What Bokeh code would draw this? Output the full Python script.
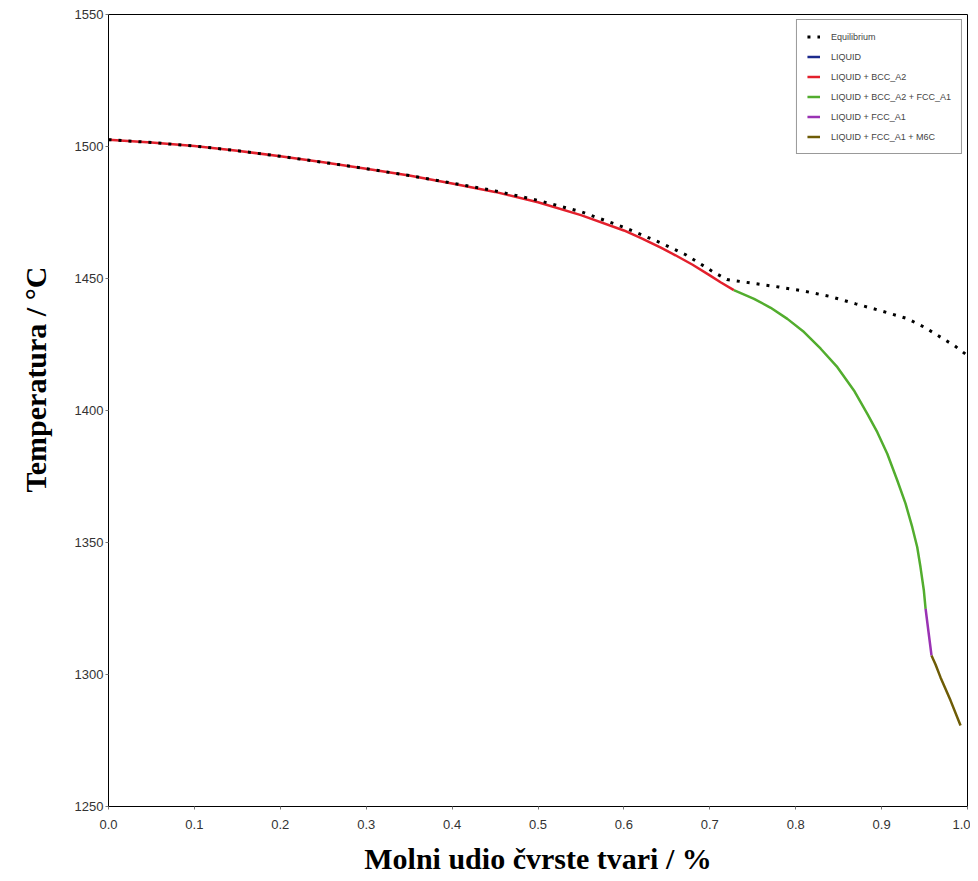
from bokeh.plotting import figure
from bokeh.models import Legend, LegendItem, FixedTicker, Title
from bokeh.embed import file_html
from bokeh.resources import INLINE

# ---- ticks ----
x_ticks = [0.0, 0.1, 0.2, 0.3, 0.4, 0.5, 0.6, 0.7, 0.8, 0.9, 1.0]
x_tick_labels = ["0.0", "0.1", "0.2", "0.3", "0.4", "0.5", "0.6", "0.7", "0.8", "0.9", "1.0"]
y_ticks = [1250, 1300, 1350, 1400, 1450, 1500, 1550]
y_tick_labels = ["1250", "1300", "1350", "1400", "1450", "1500", "1550"]

# ---- series ----
eq_x = [0.0, 0.05, 0.10, 0.15, 0.20, 0.25, 0.30, 0.35, 0.40, 0.45, 0.50, 0.55, 0.60,
        0.643, 0.672, 0.705, 0.72, 0.75, 0.78, 0.81, 0.84, 0.87, 0.90, 0.93, 0.95,
        0.97, 0.985, 1.0]
eq_t = [1502.6, 1501.5, 1500.2, 1498.4, 1496.3, 1494.0, 1491.6, 1489.0, 1486.1, 1483.2,
        1479.6, 1475.3, 1469.4, 1463.5, 1459.0, 1452.3, 1449.6, 1448.2, 1446.8, 1445.2,
        1443.2, 1440.4, 1437.7, 1434.8, 1431.5, 1427.5, 1424.5, 1420.8]

liq_x = [0.0, 0.0]
liq_t = [1502.6, 1502.6]

bcc_x = [0.0, 0.05, 0.10, 0.15, 0.20, 0.25, 0.30, 0.35, 0.40, 0.45, 0.50, 0.55, 0.60,
         0.62, 0.643, 0.66, 0.68, 0.70, 0.713, 0.728]
bcc_t = [1502.6, 1501.5, 1500.2, 1498.4, 1496.3, 1494.0, 1491.6, 1489.0, 1486.0, 1482.8,
         1478.9, 1474.0, 1468.2, 1465.3, 1461.7, 1458.8, 1455.2, 1451.2, 1448.5, 1445.6]

bcc_fcc_x = [0.728, 0.7515, 0.7709, 0.7903, 0.8097, 0.8291, 0.8485, 0.8678, 0.8834, 0.8950,
             0.9066, 0.9183, 0.9279, 0.9357, 0.9415, 0.9453, 0.9492, 0.9512]
bcc_fcc_t = [1445.6, 1442.3, 1438.9, 1434.7, 1429.7, 1423.4, 1416.4, 1407.6, 1398.7, 1391.8,
             1383.6, 1373.5, 1364.7, 1355.8, 1348.2, 1340.6, 1331.8, 1324.9]

fcc_x = [0.9512, 0.9547, 0.9581]
fcc_t = [1324.9, 1315.9, 1307.2]

fcc_m6c_x = [0.9581, 0.9628, 0.9686, 0.9802, 0.9919]
fcc_m6c_t = [1307.2, 1303.8, 1298.9, 1290.2, 1280.7]

names = ["Equilibrium", "LIQUID", "LIQUID + BCC_A2", "LIQUID + BCC_A2 + FCC_A1",
         "LIQUID + FCC_A1", "LIQUID + FCC_A1 + M6C"]
colors = ["black", "#1c2a8c", "#e3202c", "#52ad2e", "#9a32b4", "#6e5c06"]

p = figure(width=970, height=880, x_range=(0, 1), y_range=(1250, 1550),
           output_backend="svg", toolbar_location=None,
           min_border_left=107, min_border_right=3, min_border_top=14, min_border_bottom=74)

p.xgrid.visible = False
p.ygrid.visible = False
p.outline_line_color = "black"
p.outline_line_width = 1
p.background_fill_color = "white"
p.border_fill_color = "white"

p.xaxis.ticker = FixedTicker(ticks=x_ticks)
p.xaxis.major_label_overrides = {t: l for t, l in zip(x_ticks, x_tick_labels)}
p.yaxis.ticker = FixedTicker(ticks=y_ticks)
p.yaxis.major_label_overrides = {t: l for t, l in zip(y_ticks, y_tick_labels)}

for ax in (p.xaxis[0], p.yaxis[0]):
    ax.axis_line_color = "black"
    ax.axis_line_width = 1
    ax.major_tick_line_color = "#777777"
    ax.major_tick_out = 3
    ax.major_tick_in = 0
    ax.minor_tick_out = 0
    ax.minor_tick_in = 0
    ax.major_label_text_font = "Liberation Sans"
    ax.major_label_text_font_size = "13px"
    ax.major_label_text_color = "#333333"

p.xaxis.major_label_standoff = 10
p.yaxis.major_label_standoff = 2

p.xaxis.axis_label = "Molni udio čvrste tvari / %"
p.xaxis.axis_label_text_font = "Liberation Serif"
p.xaxis.axis_label_text_font_style = "bold"
p.xaxis.axis_label_text_font_size = "30px"
p.xaxis.axis_label_text_color = "black"
p.xaxis.axis_label_standoff = 10

ytitle = Title(text="Temperatura / °C", align="left", offset=314, vertical_align="top",
               text_font="Liberation Serif", text_font_style="bold",
               text_font_size="30px", text_color="black", standoff=36)
p.add_layout(ytitle, "left")

# curves
r_liq = p.line(liq_x, liq_t, line_color=colors[1], line_width=2.5)
r_bcc = p.line(bcc_x, bcc_t, line_color=colors[2], line_width=2.5)
r_bf = p.line(bcc_fcc_x, bcc_fcc_t, line_color=colors[3], line_width=2.5)
r_fcc = p.line(fcc_x, fcc_t, line_color=colors[4], line_width=2.5)
r_m6c = p.line(fcc_m6c_x, fcc_m6c_t, line_color=colors[5], line_width=2.5)
r_eq = p.line(eq_x, eq_t, line_color=colors[0], line_width=3, line_dash="3 7")

renderers = [r_eq, r_liq, r_bcc, r_bf, r_fcc, r_m6c]
legend = Legend(items=[LegendItem(label=n, renderers=[r]) for n, r in zip(names, renderers)],
                location="top_right", margin=5, padding=10, spacing=7,
                label_text_font="Liberation Sans", label_text_font_size="9px",
                label_height=13, glyph_height=13, glyph_width=13, label_standoff=11,
                border_line_color="#333333", border_line_width=1.5,
                background_fill_color="white", background_fill_alpha=1)
p.add_layout(legend)

open("out.html", "w").write(file_html(p, INLINE))
